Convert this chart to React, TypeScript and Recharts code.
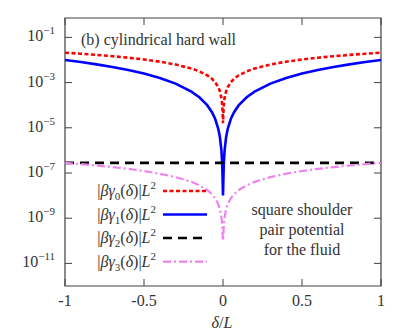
import { LineChart, Line, XAxis, YAxis, Legend, ReferenceArea } from "recharts";

const W = 407;
const H = 336;
const INK = "#404040";
const TXT = "#333";
const FONT = "Liberation Serif, DejaVu Serif, Times New Roman, serif";

// plot frame (pixels), used only for the mirrored inward ticks
const PLOT_LEFT = 65;
const PLOT_RIGHT = 381;
const PLOT_TOP = 18;

// half of the x range (delta / L >= 0); the picture is mirrored about 0
const DELTA = [0, 0.002, 0.005, 0.01, 0.02, 0.03, 0.05, 0.07, 0.1, 0.15, 0.2, 0.3, 0.4, 0.5, 0.6, 0.7, 0.8, 0.9, 1];

const GAMMA0 = [1.6e-5, 4.2e-5, 1.05e-4, 2.1e-4, 4.2e-4, 6.3e-4, 1.05e-3, 1.47e-3, 2.1e-3, 3.15e-3, 4.2e-3, 6.3e-3, 8.4e-3, 1.05e-2, 1.26e-2, 1.47e-2, 1.68e-2, 1.89e-2, 2.1e-2];
const GAMMA1 = [1e-8, 4e-8, 2.5e-7, 1e-6, 4e-6, 9e-6, 2.5e-5, 4.9e-5, 1e-4, 2.25e-4, 4e-4, 9e-4, 1.6e-3, 2.5e-3, 3.6e-3, 4.9e-3, 6.4e-3, 8.1e-3, 1e-2];
const GAMMA2 = [2.8e-7, 2.8e-7, 2.8e-7, 2.8e-7, 2.8e-7, 2.8e-7, 2.8e-7, 2.8e-7, 2.8e-7, 2.8e-7, 2.8e-7, 2.8e-7, 2.8e-7, 2.8e-7, 2.8e-7, 2.8e-7, 2.8e-7, 2.8e-7, 2.8e-7];
const GAMMA3 = [1e-10, 1.6e-10, 4.9e-10, 1.11e-9, 2.56e-9, 4.2e-9, 7.7e-9, 1.15e-8, 1.77e-8, 2.87e-8, 4.06e-8, 6.6e-8, 9.3e-8, 1.22e-7, 1.52e-7, 1.83e-7, 2.14e-7, 2.47e-7, 2.8e-7];

const X_TICKS = [-1, -0.5, 0, 0.5, 1];
const Y_TICKS = [1e-1, 1e-3, 1e-5, 1e-7, 1e-9, 1e-11];
const Y_DOMAIN = [1e-12, 0.72];

const SERIES = [
  { key: "g0", sub: "0", color: "#ff0000", width: 2.6, dash: "4 2.5" },
  { key: "g1", sub: "1", color: "#0000ff", width: 2.6, dash: undefined },
  { key: "g2", sub: "2", color: "#000000", width: 2.6, dash: "9 6" },
  { key: "g3", sub: "3", color: "#ee82ee", width: 2.2, dash: "8 3 2 3" },
];

const half = DELTA.map((d, i) => ({ d, g0: GAMMA0[i], g1: GAMMA1[i], g2: GAMMA2[i], g3: GAMMA3[i] }));
const data = [
  ...half.slice(1).reverse().map((r) => ({ ...r, d: -r.d })),
  ...half,
];

const fmtX = (v: number) => (v === 0 ? "0" : String(v));
const txt = { fontFamily: FONT, fontSize: 16, fill: TXT };

// gnuplot style: ticks point into the frame, mirrored on the opposite side
function LeftTick({ x, y, payload }: any) {
  const exp = Math.round(Math.log10(payload.value));
  return (
    <g>
      <line x1={PLOT_LEFT} x2={PLOT_LEFT + 7} y1={y} y2={y} stroke={INK} />
      <line x1={PLOT_RIGHT} x2={PLOT_RIGHT - 7} y1={y} y2={y} stroke={INK} />
      <text x={x} y={y + 4} textAnchor="end" style={txt}>
        10<tspan dy={-7} style={{ fontSize: 11 }}>{"−" + -exp}</tspan>
      </text>
    </g>
  );
}

function BottomTick({ x, y, payload }: any) {
  const bottom = y - 8;
  return (
    <g>
      <line x1={x} x2={x} y1={bottom} y2={bottom - 7} stroke={INK} />
      <line x1={x} x2={x} y1={PLOT_TOP} y2={PLOT_TOP + 7} stroke={INK} />
      <text x={x} y={y + 12} textAnchor="middle" style={txt}>
        {fmtX(payload.value)}
      </text>
    </g>
  );
}

const ROW_Y = [191, 214.5, 238, 261.7];

function KeyBox() {
  return (
    <svg width={W} height={H} style={{ display: "block" }}>
      {SERIES.map((s, i) => (
        <g key={s.key}>
          <text x={156} y={ROW_Y[i] + 5} textAnchor="end" style={txt}>
            |<tspan fontStyle="italic">βγ</tspan>
            <tspan dy={4} style={{ fontSize: 11 }}>{s.sub}</tspan>
            <tspan dy={-4}>(</tspan>
            <tspan fontStyle="italic">δ</tspan>)|<tspan fontStyle="italic">L</tspan>
            <tspan dy={-7} style={{ fontSize: 11 }}>2</tspan>
          </text>
          <line
            x1={163}
            x2={207}
            y1={ROW_Y[i]}
            y2={ROW_Y[i]}
            stroke={s.color}
            strokeWidth={s.width}
            strokeDasharray={s.dash}
          />
        </g>
      ))}
    </svg>
  );
}

export default function App() {
  return (
    <div style={{ position: "absolute", left: 0, top: 0, width: W, height: H, background: "#fff" }}>
      <LineChart width={W} height={H} data={data} margin={{ top: PLOT_TOP, right: W - PLOT_RIGHT, bottom: 0, left: 0 }}>
        <XAxis
          dataKey="d"
          type="number"
          domain={[-1, 1]}
          ticks={X_TICKS}
          interval={0}
          height={50}
          tickSize={0}
          tickMargin={8}
          tick={BottomTick}
          axisLine={false}
          allowDataOverflow
        />
        <YAxis
          type="number"
          scale="log"
          domain={Y_DOMAIN}
          ticks={Y_TICKS}
          interval={0}
          width={PLOT_LEFT}
          tickSize={0}
          tickMargin={10}
          tick={LeftTick}
          axisLine={false}
          allowDataOverflow
        />
        <ReferenceArea
          x1={-1}
          x2={1}
          y1={Y_DOMAIN[0]}
          y2={Y_DOMAIN[1]}
          fill="none"
          fillOpacity={0}
          stroke={INK}
          strokeWidth={1.2}
          ifOverflow="visible"
        />
        {SERIES.map((s) => (
          <Line
            key={s.key}
            dataKey={s.key}
            type="linear"
            stroke={s.color}
            strokeWidth={s.width}
            strokeDasharray={s.dash}
            dot={false}
            isAnimationActive={false}
          />
        ))}
        <Legend
          layout="horizontal"
          verticalAlign="middle"
          align="center"
          content={() => <KeyBox />}
          wrapperStyle={{ position: "absolute", left: 0, top: 0, width: W, height: H, pointerEvents: "none" }}
        />
      </LineChart>
      <svg
        width={W}
        height={H}
        style={{ position: "absolute", left: 0, top: 0, pointerEvents: "none" }}
      >
        <text x={81} y={45} style={txt}>
          (b) cylindrical hard wall
        </text>
        <text x={302} y={215} textAnchor="middle" style={txt}>
          square shoulder
        </text>
        <text x={302} y={235} textAnchor="middle" style={txt}>
          pair potential
        </text>
        <text x={302} y={255} textAnchor="middle" style={txt}>
          for the fluid
        </text>
        <text x={222} y={328} textAnchor="middle" style={txt}>
          <tspan fontStyle="italic">δ</tspan>/<tspan fontStyle="italic">L</tspan>
        </text>
      </svg>
    </div>
  );
}
